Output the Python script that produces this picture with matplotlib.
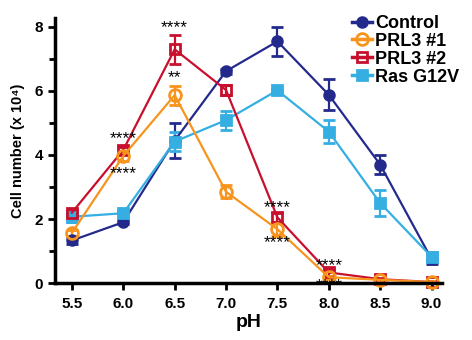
import matplotlib
matplotlib.use('Agg')
import matplotlib.pyplot as plt
from matplotlib.lines import Line2D
from matplotlib.ticker import MultipleLocator

plt.rcParams['font.family'] = ['Liberation Sans', 'DejaVu Sans']
plt.rcParams['font.weight'] = 'bold'

ph = [5.5, 6.0, 6.5, 7.0, 7.5, 8.0, 8.5, 9.0]

control = [1.33, 1.90, 4.45, 6.62, 7.55, 5.88, 3.70, 0.75]
control_err = [0.10, 0.06, 0.55, 0.08, 0.45, 0.48, 0.30, 0.15]
prl3_1 = [1.57, 3.97, 5.87, 2.85, 1.68, 0.18, 0.10, 0.03]
prl3_1_err = [0.10, 0.15, 0.30, 0.20, 0.20, 0.05, 0.03, 0.02]
prl3_2 = [2.20, 4.16, 7.30, 6.03, 2.05, 0.33, 0.12, 0.03]
prl3_2_err = [0.08, 0.10, 0.45, 0.15, 0.15, 0.10, 0.04, 0.02]
ras = [2.07, 2.18, 4.42, 5.09, 6.02, 4.73, 2.50, 0.82]
ras_err = [0.15, 0.06, 0.30, 0.30, 0.05, 0.35, 0.40, 0.15]

# significance marks: (pH, y, text)
stars = [
    (6.0, 4.50, '****'), (6.0, 3.42, '****'),
    (6.5, 7.98, '****'), (6.5, 6.42, '**'),
    (7.5, 2.35, '****'), (7.5, 1.27, '****'),
    (8.0, 0.55, '****'), (8.0, -0.08, '****'),
]

fig = plt.figure(figsize=(4.72, 3.4), dpi=100)
ax = fig.add_axes([0.1165, 0.1676, 0.8195, 0.7794])

series = [
    ('Control', control, control_err, '#232a8c', 'o', '#232a8c', 7),
    ('Ras G12V', ras, ras_err, '#35aee2', 's', '#35aee2', 7),
    ('PRL3 #2', prl3_2, prl3_2_err, '#c8102e', 's', 'none', 7),
    ('PRL3 #1', prl3_1, prl3_1_err, '#f7941d', 'o', 'none', 8.5),
]
handles = {}
for name, y, err, c, m, fc, ms in series:
    ax.errorbar(ph, y, yerr=err, color=c, marker=m, markerfacecolor=fc,
                markeredgecolor=c, markeredgewidth=2, markersize=ms,
                linewidth=1.6, elinewidth=1.6, capsize=4.5, capthick=1.6,
                clip_on=False)
    handles[name] = Line2D([], [], color=c, marker=m, markerfacecolor=fc,
                           markeredgecolor=c, markeredgewidth=2,
                           markersize=ms, linewidth=2.5)

for x, y, t in stars:
    ax.text(x, y, t, ha='center', va='center', fontsize=12.5, color='black',
            fontweight='normal')

order = ['Control', 'PRL3 #1', 'PRL3 #2', 'Ras G12V']
leg = ax.legend([handles[n] for n in order], order, loc='upper left',
                bbox_to_anchor=(0.767, 1.012), frameon=False, fontsize=13,
                handlelength=1.1, handletextpad=0.2, labelspacing=0.05,
                borderaxespad=0, borderpad=0)
for t in leg.get_texts():
    t.set_fontweight('bold')

ax.set_xlim(5.335, 9.1)
ax.set_ylim(0, 8.28)
ax.set_xticks(ph)
ax.set_xticklabels([f'{v:.1f}' for v in ph])
ax.yaxis.set_major_locator(MultipleLocator(2))
ax.yaxis.set_minor_locator(MultipleLocator(1))
ax.tick_params(axis='both', which='major', direction='out', width=2, length=5,
               labelsize=11)
ax.tick_params(axis='x', which='major', pad=5)
ax.tick_params(axis='y', which='minor', direction='out', width=2, length=4)
for lab in ax.get_xticklabels() + ax.get_yticklabels():
    lab.set_fontweight('bold')

ax.spines['top'].set_visible(False)
ax.spines['right'].set_visible(False)
ax.spines['left'].set_linewidth(2.5)
ax.spines['bottom'].set_linewidth(2.5)

ax.set_xlabel('pH', fontsize=14, fontweight='bold', labelpad=2)
ax.set_ylabel('Cell number (x 10\u2074)', fontsize=10.5, fontweight='bold',
              labelpad=7)

fig.savefig('out.png', dpi=100)
